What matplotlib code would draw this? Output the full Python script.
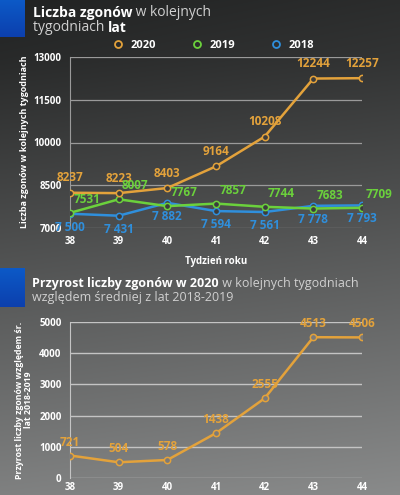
import numpy as np
import matplotlib
matplotlib.use("Agg")
import matplotlib.pyplot as plt
from matplotlib.lines import Line2D

plt.rcParams['font.family'] = ['Open Sans', 'DejaVu Sans']

weeks = [38, 39, 40, 41, 42, 43, 44]
deaths_2020 = [8237, 8223, 8403, 9164, 10208, 12244, 12257]
deaths_2019 = [7531, 8007, 7767, 7857, 7744, 7683, 7709]
deaths_2018 = [7500, 7431, 7882, 7594, 7561, 7778, 7793]
labels_2018 = ["7 500", "7 431", "7 882", "7 594", "7 561", "7 778", "7 793"]
growth_2020 = [721, 504, 578, 1438, 2555, 4513, 4506]
top_yticks = [7000, 8500, 10000, 11500, 13000]
bot_yticks = [0, 1000, 2000, 3000, 4000, 5000]

C2020 = '#e3a23b'
C2019 = '#6bd13c'
C2018 = '#2f8fdc'

W, H = 400, 495
fig = plt.figure(figsize=(W/100, H/100), dpi=100)

# background gradient
bg = fig.add_axes([0, 0, 1, 1], zorder=-10)
yy, xx = np.mgrid[0:H, 0:W]
v = np.interp(yy, [0, 60, 250, 495], [0.13, 0.16, 0.31, 0.50]) + 0.04 * xx / W
img = np.dstack([v, v + 0.005, v + 0.005])
bg.imshow(np.clip(img, 0, 1), extent=[0, W, H, 0], aspect='auto')
# blue tabs
for (y0, y1) in [(0, 37), (268, 307)]:
    g = np.linspace(0, 1, 50)[:, None] * np.ones((1, 10))
    blue = np.dstack([0.05 + 0.0 * g, 0.35 - 0.1 * g, 0.78 - 0.1 * g])
    bg.imshow(blue, extent=[0, 25, y1, y0], aspect='auto')
bg.set_xlim(0, W)
bg.set_ylim(H, 0)
bg.axis('off')


def fx(px):
    return px / W


def fy(py):
    return 1 - py / H


def chain(parts, x, y, size):
    first = fig.text(fx(x), fy(y), parts[0][0],
                     color='white' if parts[0][1] == 'bold' else '#d0d0d0',
                     fontsize=size, fontweight=parts[0][1], va='baseline', ha='left')
    prev = first
    for txt, wt in parts[1:]:
        prev = bg.annotate(txt, xy=(1, 0), xycoords=prev, va='bottom', ha='left',
                           color='white' if wt == 'bold' else '#d0d0d0',
                           fontsize=size, fontweight=wt, annotation_clip=False)


chain([("Liczba zgonów", 'bold'), (" w kolejnych", 'normal')], 33, 17, 10)
chain([("tygodniach ", 'normal'), ("lat", 'bold')], 33, 31, 10)
chain([("Przyrost liczby zgonów w 2020", 'bold'), (" w kolejnych tygodniach", 'normal')], 32, 287, 9)
chain([("względem średniej z lat 2018-2019", 'normal')], 32, 301, 9)

# top chart
ax1 = fig.add_axes([fx(70), fy(228), fx(362) - fx(70), fy(57) - fy(228)])
ax1.set_facecolor('none')
mk = dict(marker='o', ms=4.5, mfc='#3c3c3c', mew=1.1)
ax1.plot(weeks, deaths_2018, color=C2018, lw=1.8, mec=C2018, zorder=3, **mk)
ax1.plot(weeks, deaths_2019, color=C2019, lw=1.8, mec=C2019, zorder=4, **mk)
ax1.plot(weeks, deaths_2020, color=C2020, lw=1.8, mec=C2020, zorder=5, **mk)
for x, v in zip(weeks, deaths_2020):
    ax1.annotate(str(v), (x, v), xytext=(0, 6), textcoords='offset points', ha='center',
                 va='bottom', color=C2020, fontsize=8.5, fontweight='bold', zorder=6)
for x, v in zip(weeks, deaths_2019):
    ax1.annotate(str(v), (x, v), xytext=(12, 5), textcoords='offset points', ha='center',
                 va='bottom', color=C2019, fontsize=8.5, fontweight='bold', zorder=6)
for x, v, lab in zip(weeks, deaths_2018, labels_2018):
    ax1.annotate(lab, (x, v), xytext=(0, -5), textcoords='offset points',
                 ha='center', va='top', color=C2018, fontsize=8.5, fontweight='bold', zorder=6)
ax1.set_xlim(38, 44)
ax1.set_ylim(7000, 13000)
ax1.set_yticks(top_yticks)
ax1.set_xticks(weeks)
ax1.grid(axis='y', color='#9a9a9a', lw=0.9)
ax1.set_axisbelow(True)
for s in ['top', 'right', 'bottom']:
    ax1.spines[s].set_visible(False)
ax1.spines['left'].set_color('#9a9a9a')
ax1.tick_params(length=0, colors='white', labelsize=7, pad=6)
for lab in ax1.get_xticklabels() + ax1.get_yticklabels():
    lab.set_fontweight('bold')
ax1.set_xlabel('Tydzień roku', color='white', fontsize=7, fontweight='bold', labelpad=6)
fig.text(fx(25), fy(142), 'Liczba zgonów w kolejnych tygodniach', rotation=90, color='white',
         fontsize=6.5, fontweight='bold', ha='center', va='center')

handles = [Line2D([], [], ls='none', marker='o', ms=5, mfc='none', mec=c, mew=1.3)
           for c in (C2020, C2019, C2018)]
fig.legend(handles, ['2020', '2019', '2018'], loc='center', bbox_to_anchor=(fx(213), fy(45)),
           ncol=3, frameon=False, handlelength=1.0, handletextpad=0.6, columnspacing=3.2,
           labelcolor='white', prop={'weight': 'bold', 'size': 8})

# bottom chart
ax2 = fig.add_axes([fx(70), fy(478), fx(362) - fx(70), fy(322) - fy(478)])
ax2.set_facecolor('none')
ax2.plot(weeks, growth_2020, color=C2020, lw=1.8, mec=C2020, zorder=5,
         marker='o', ms=4.5, mfc='#7a7a7a', mew=1.1)
for x, v in zip(weeks, growth_2020):
    ax2.annotate(str(v), (x, v), xytext=(0, 5), textcoords='offset points', ha='center',
                 va='bottom', color=C2020, fontsize=8.5, fontweight='bold', zorder=6)
ax2.set_xlim(38, 44)
ax2.set_ylim(0, 5000)
ax2.set_yticks(bot_yticks)
ax2.set_xticks(weeks)
ax2.grid(axis='y', color='#c4c4c4', lw=1.0)
ax2.set_axisbelow(True)
for s in ['top', 'right', 'bottom']:
    ax2.spines[s].set_visible(False)
ax2.spines['left'].set_color('#c4c4c4')
ax2.tick_params(axis='y', length=0, colors='white', labelsize=7, pad=6)
ax2.tick_params(axis='x', length=0, colors='white', labelsize=7, pad=3)
for lab in ax2.get_xticklabels() + ax2.get_yticklabels():
    lab.set_fontweight('bold')
fig.text(fx(24), fy(400), 'Przyrost liczby zgonów względem śr.\nlat 2018-2019', rotation=90,
         color='white', fontsize=6.3, fontweight='bold', ha='center', va='center',
         multialignment='center', linespacing=1.1)

fig.savefig('out.png', dpi=100)
